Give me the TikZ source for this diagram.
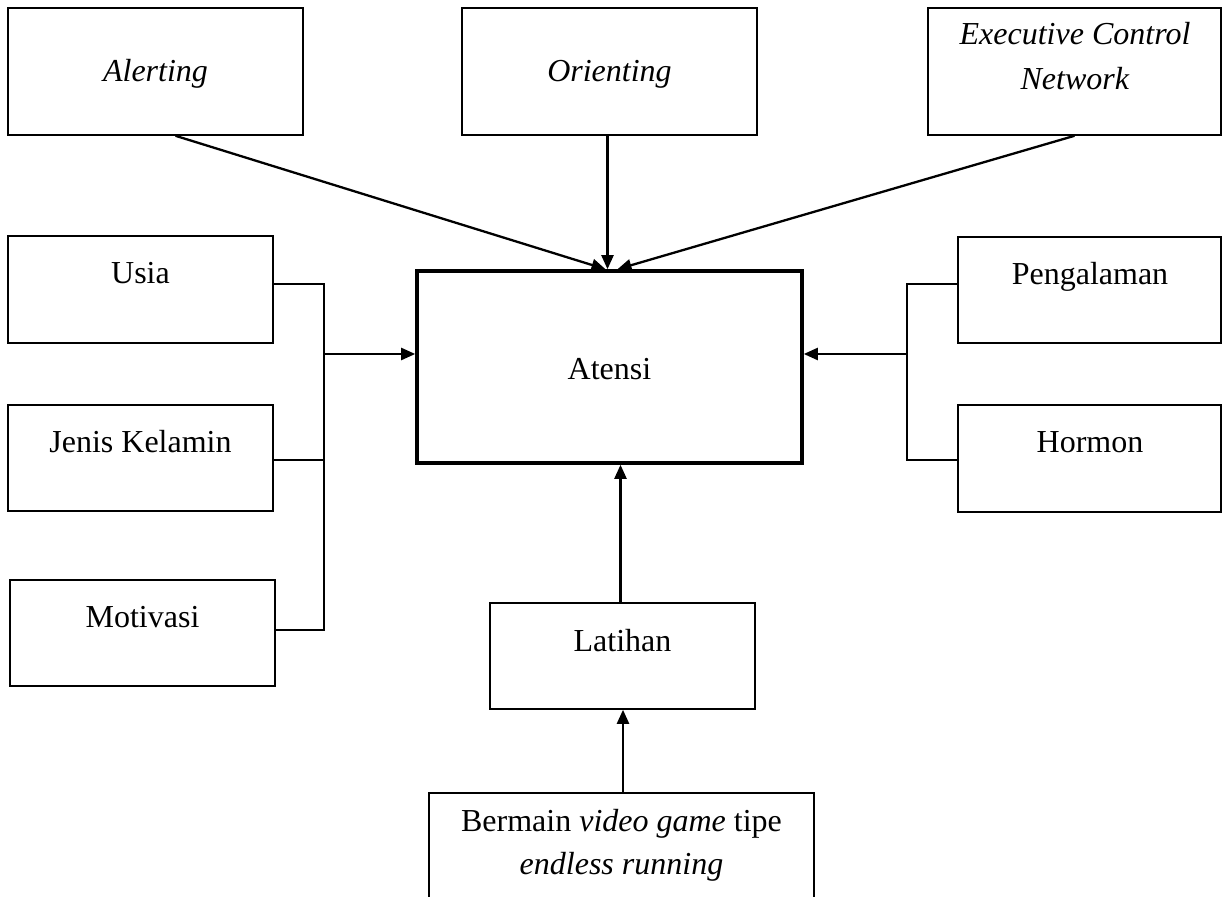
\documentclass[tikz,border=0pt]{standalone}
\usepackage{fontspec}
\setmainfont{Liberation Serif}
\usetikzlibrary{arrows.meta,fit,calc}
\tikzset{
  box/.style={draw, line width=0.8pt, rectangle, inner sep=0pt},
  mainbox/.style={draw, line width=1.8pt, rectangle, inner sep=0pt},
  txt/.style={font=\fontsize{16}{22.5}\selectfont, inner sep=0pt, align=center},
  arr/.style={line width=1.15pt, -{Triangle[length=7pt,width=6pt]}},
  bus/.style={line width=0.8pt}
}
\begin{document}
\begin{tikzpicture}[x=0.5pt,y=-0.5pt]
\useasboundingbox (0,0) rectangle (1223,897);
\clip (0,0) rectangle (1223,897);
% boxes
\node[box, fit={(8,8)(303,135)}] (alert) {};
\node[box, fit={(462,8)(757,135)}] (orient) {};
\node[box, fit={(928,8)(1221,135)}] (ecn) {};
\node[box, fit={(8,236)(273,343)}] (usia) {};
\node[box, fit={(8,405)(273,511)}] (jenis) {};
\node[box, fit={(10,580)(275,686)}] (motiv) {};
\node[mainbox, fit={(417,271)(802,463)}] (atensi) {};
\node[box, fit={(958,237)(1221,343)}] (peng) {};
\node[box, fit={(958,405)(1221,512)}] (horm) {};
\node[box, fit={(490,603)(755,709)}] (lat) {};
\node[box, fit={(429,793)(814,930)}] (bermain) {};
% texts
\node[txt, anchor=base] (t-alert) at (155.5,82) {\textit{Alerting}};
\node[txt, anchor=base] (t-orient) at (609.5,82) {\textit{Orienting}};
\node[txt, anchor=base] (t-ecn1) at (1075,45) {\textit{Executive Control}};
\node[txt, anchor=base] (t-ecn2) at (1075,90) {\textit{Network}};
\node[txt, anchor=base] (t-usia) at (140.5,284) {Usia};
\node[txt, anchor=base] (t-jenis) at (140.5,453) {Jenis Kelamin};
\node[txt, anchor=base] (t-motiv) at (142.5,628) {Motivasi};
\node[txt, anchor=base] (t-atensi) at (609.5,380) {Atensi};
\node[txt, anchor=base] (t-peng) at (1090,285) {Pengalaman};
\node[txt, anchor=base] (t-horm) at (1090,453) {Hormon};
\node[txt, anchor=base] (t-lat) at (622.5,652) {Latihan};
\node[txt, anchor=base] (t-berm1) at (621.5,832) {Bermain \textit{video game} tipe};
\node[txt, anchor=base] (t-berm2) at (621.5,875) {\textit{endless running}};
% top connectors
\draw[arr] ($(alert.south)+(20,0)$) -- ($(atensi.north)+(-4,0)$);
\draw[arr] ($(orient.south)+(-2,0)$) -- ($(atensi.north)+(-2,0)$);
\draw[arr] (ecn.south) -- ($(atensi.north)+(8,0)$);
% left bus
\draw[bus] (usia.east |- 0,284) -- (324,284) -- (324,630) -- (motiv.east |- 0,630);
\draw[bus] (jenis.east |- 0,460) -- (324,460);
\coordinate (lb) at (324,354);
\draw[arr] (lb) -- (atensi.west |- lb);
% right bus
\draw[bus] (peng.west |- 0,284) -- (907,284) -- (907,460) -- (horm.west |- 0,460);
\coordinate (rb) at (907,354);
\draw[arr] (rb) -- (atensi.east |- rb);
% bottom
\draw[arr] ($(lat.north)+(-2,0)$) -- ($(lat.north |- atensi.south)+(-2,0)$);
\draw[arr] ($(bermain.north)+(1.5,0)$) -- ($(bermain.north |- lat.south)+(1.5,0)$);
\end{tikzpicture}
\end{document}
